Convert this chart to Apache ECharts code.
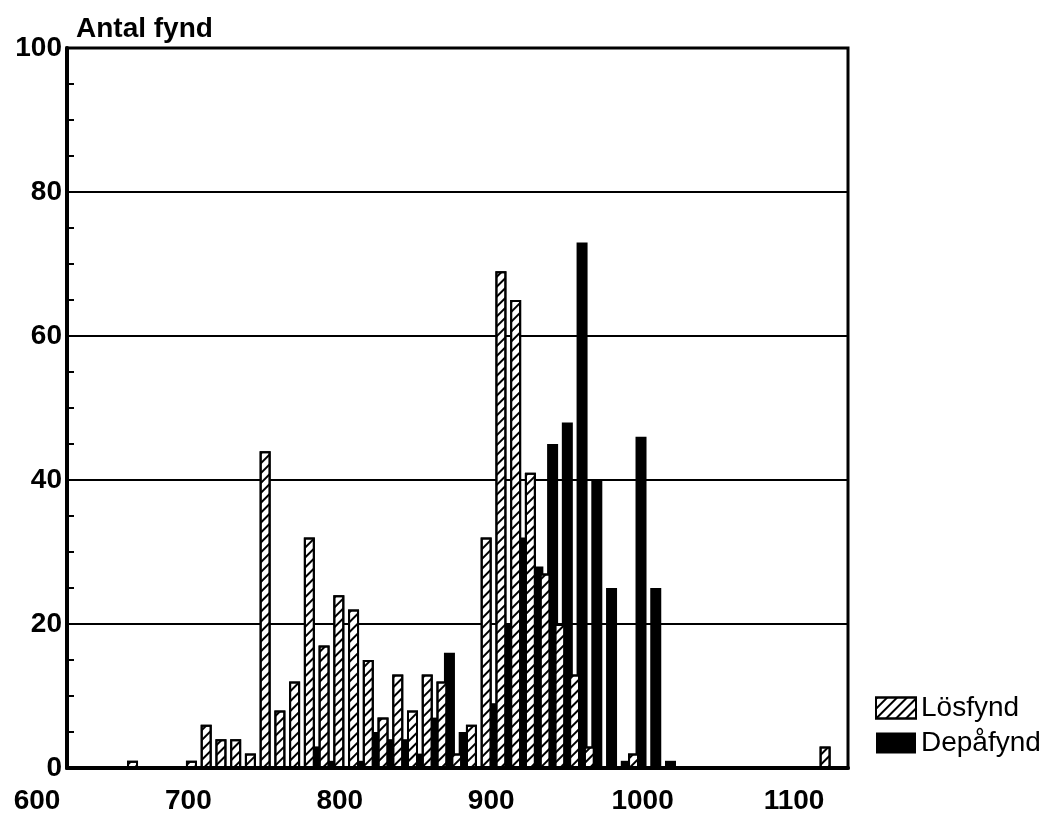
<!DOCTYPE html>
<html>
<head>
<meta charset="utf-8">
<script src="https://cdn.jsdelivr.net/npm/echarts@6/dist/echarts.min.js"></script>
<style>html,body{margin:0;padding:0;background:#fff;}#c{width:1063px;height:825px;}</style>
</head>
<body>
<div id="c"></div>
<script>
// Decades (start year of each decade)
const years = [650,660,670,680,690,700,710,720,730,740,
               750,760,770,780,790,800,810,820,830,840,
               850,860,870,880,890,900,910,920,930,940,
               950,960,970,980,990,1000,1010,1020,1030,1040,
               1050,1060,1070,1080,1090,1100,1110,1120];
// Lösfynd (stray finds) per decade
const losfynd = [1,0,0,0,1,6,4,4,2,44,
                 8,12,32,17,24,22,15,7,13,8,
                 13,12,2,6,32,69,65,41,27,20,
                 13,3,0,0,2,0,0,0,0,0,
                 0,0,0,0,0,0,0,3];
// Depåfynd (hoard finds) per decade
const depafynd = [0,0,0,0,0,0,0,0,0,0,
                  0,0,3,1,0,1,5,4,4,2,
                  7,16,5,0,9,20,32,28,45,48,
                  73,40,25,1,46,25,1,0,0,0,
                  0,0,0,0,0,0,0,0];
const xTickLabels = [600,700,800,900,1000,1100];

const FONT = 'Liberation Sans, Arial, sans-serif';
const toData = arr => years.map((y, i) => [y + 5, arr[i]]).filter(d => d[1] > 0);

const chart = echarts.init(document.getElementById('c'), null, {renderer: 'canvas'});
chart.setOption({
  backgroundColor: '#fff',
  animation: false,
  title: {
    text: 'Antal fynd', left: 71, top: 10,
    textStyle: {fontFamily: FONT, fontSize: 28, fontWeight: 'bold', color: '#000'}
  },
  legend: {
    orient: 'vertical', left: 870, top: 689,
    itemWidth: 40, itemHeight: 21, itemGap: 7,
    icon: 'rect',
    textStyle: {fontFamily: FONT, fontSize: 28, color: '#000', lineHeight: 28},
    data: ['Lösfynd', 'Depåfynd']
  },
  grid: [
    {left: 67, top: 48, width: 781, height: 720, show: true, borderColor: '#000', borderWidth: 3, backgroundColor: 'transparent'},
    {left: 37, top: 48, width: 757, height: 720}
  ],
  xAxis: [
    {gridIndex: 0, type: 'value', min: 608, max: 1138,
     axisLabel: {show: false}, axisTick: {show: false}, splitLine: {show: false},
     axisLine: {show: true, lineStyle: {color: '#000', width: 4}}},
    {gridIndex: 1, type: 'value', min: 600, max: 1100, interval: 100,
     axisLine: {show: false}, axisTick: {show: false}, splitLine: {show: false},
     axisLabel: {fontFamily: FONT, fontSize: 28, fontWeight: 'bold', color: '#000', margin: 19,
       formatter: v => (xTickLabels.indexOf(v) >= 0 ? String(v) : '')}}
  ],
  yAxis: [
    {gridIndex: 0, type: 'value', min: 0, max: 100, interval: 20,
     axisLine: {show: true, lineStyle: {color: '#000', width: 4}},
     axisTick: {show: true, inside: true, length: 7, lineStyle: {color: '#000', width: 2}},
     minorTick: {show: true, splitNumber: 4, length: 7, lineStyle: {color: '#000', width: 2}},
     splitLine: {show: true, lineStyle: {color: '#000', width: 2}},
     axisLabel: {fontFamily: FONT, fontSize: 28, fontWeight: 'bold', color: '#000', margin: 5}},
    {gridIndex: 1, type: 'value', min: 0, max: 100, show: false}
  ],
  series: [
    {name: 'Lösfynd', type: 'bar', xAxisIndex: 0, yAxisIndex: 0,
     barWidth: 11, barGap: '-32%', z: 3,
     itemStyle: {color: '#fff', borderColor: '#000', borderWidth: 2,
       decal: {symbol: 'rect', symbolSize: 1, dashArrayX: [1, 0], dashArrayY: [1.5, 5],
               rotation: -Math.PI / 4, color: '#000'}},
     data: toData(losfynd)},
    {name: 'Depåfynd', type: 'bar', xAxisIndex: 0, yAxisIndex: 0,
     barWidth: 11, barGap: '-32%', z: 2,
     itemStyle: {color: '#000'},
     data: toData(depafynd)}
  ]
});
</script>
</body>
</html>
